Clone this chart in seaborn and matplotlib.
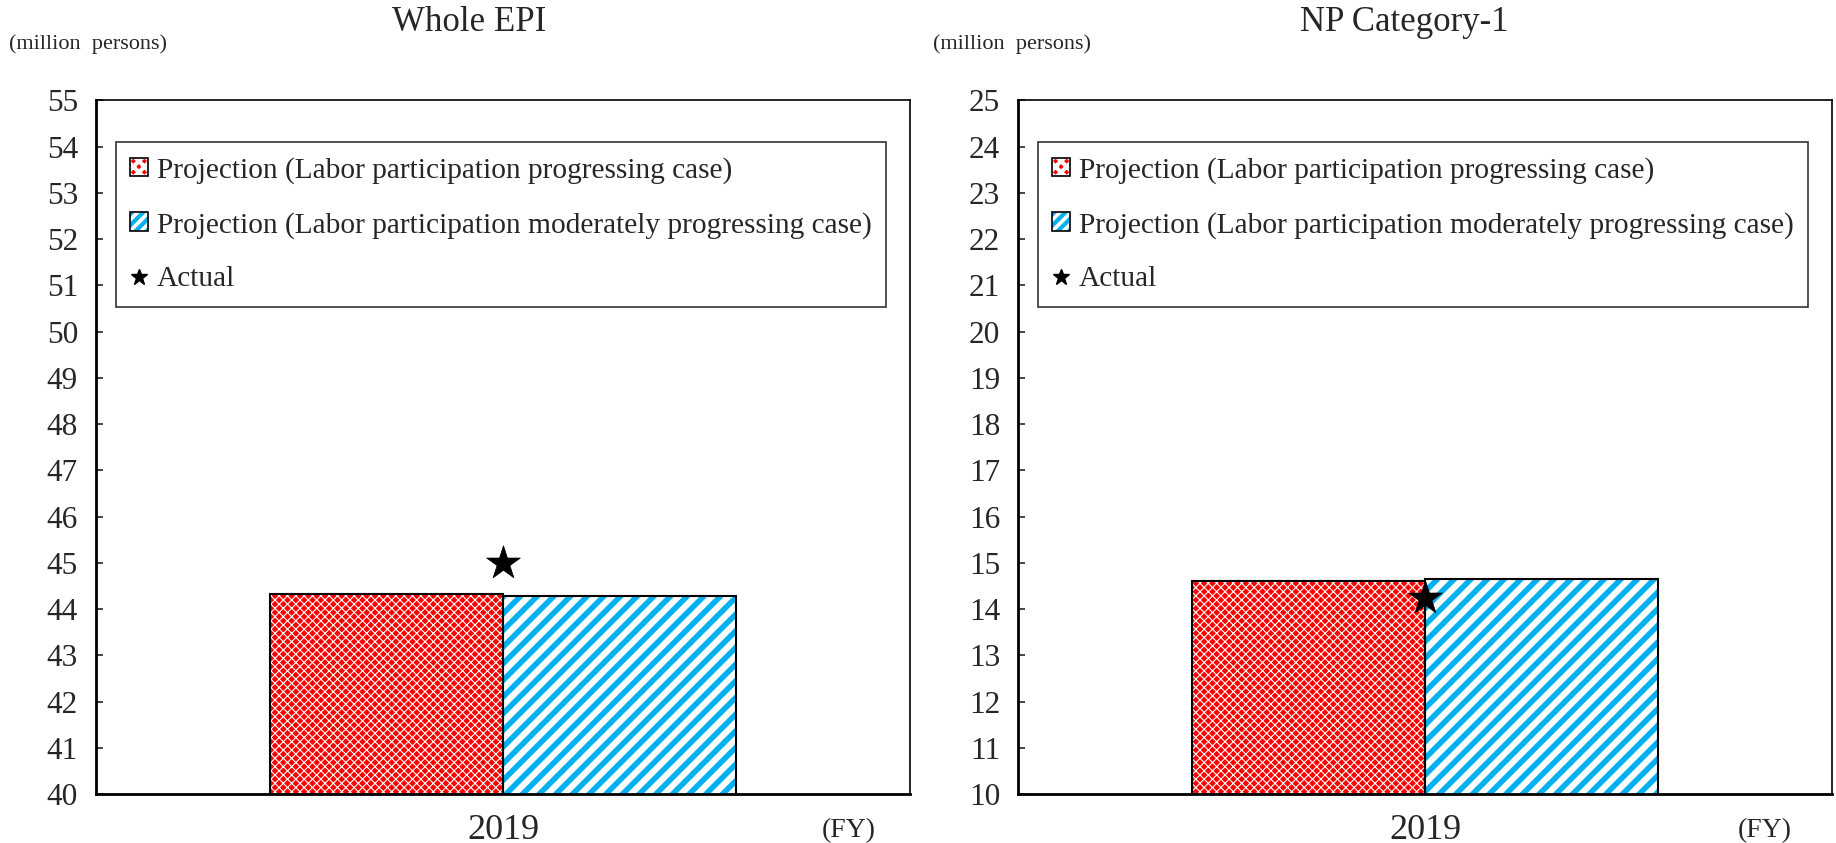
import pandas as pd
import matplotlib.pyplot as plt
import seaborn as sns
from matplotlib.patches import Patch, Rectangle
from matplotlib.lines import Line2D

# values (million persons)
years = ["2019"]
panels = ["Whole EPI", "NP Category-1"]
progressing = [44.33, 14.60]
moderate = [44.28, 14.66]
actual = [45.00, 14.25]
y_ranges = [(40, 55), (10, 25)]

case_names = [
    "Projection (Labor participation progressing case)",
    "Projection (Labor participation moderately progressing case)",
]

RED = "#FF0000"
BLUE = "#00B0F0"
SERIF = ["Liberation Serif", "DejaVu Serif"]


def style_bars(ax):
    """Apply the hatch styles and draw black outlines over each bar."""
    bars = [p for p in ax.patches if isinstance(p, Rectangle)]
    for i, bar in enumerate(bars):
        if i == 0:
            bar.set_facecolor(RED)
            bar.set_edgecolor("white")
            bar.set_hatch("xxxx")
            lw = 0.8
        else:
            bar.set_facecolor("white")
            bar.set_edgecolor(BLUE)
            bar.set_hatch("//")
            lw = 4.0
        bar.set_linewidth(0)
        if hasattr(bar, "set_hatch_linewidth"):
            bar.set_hatch_linewidth(lw)
        outline = Rectangle(bar.get_xy(), bar.get_width(), bar.get_height(),
                            fill=False, edgecolor="black", linewidth=1.5, zorder=3)
        ax.add_patch(outline)


def legend_handles():
    red_fill = Patch(facecolor=RED, edgecolor="white", hatch="xxx", linewidth=0)
    red_edge = Patch(facecolor="none", edgecolor="black", linewidth=1.2)
    blue_fill = Patch(facecolor="white", edgecolor=BLUE, hatch="///", linewidth=0)
    blue_edge = Patch(facecolor="none", edgecolor="black", linewidth=1.2)
    star = Line2D([], [], marker="*", color="black", linestyle="none", markersize=12)
    return [(red_fill, red_edge), (blue_fill, blue_edge), star]


def main():
    sns.set_style("white")
    plt.rcParams["font.family"] = SERIF
    plt.rcParams["hatch.linewidth"] = 3.0

    fig = plt.figure(figsize=(18.36, 8.43), dpi=100)
    axes = [fig.add_axes([0.0523, 0.058, 0.4434, 0.823]),
            fig.add_axes([0.5545, 0.058, 0.4434, 0.823])]
    title_x = [0.2557, 0.765]
    unit_x = [0.005, 0.508]
    fy_x = [0.4624, 0.961]

    for k, ax in enumerate(axes):
        df = pd.DataFrame({
            "year": years * 2,
            "case": case_names,
            "value": [progressing[k], moderate[k]],
        })
        sns.barplot(data=df, x="year", y="value", hue="case", width=0.573,
                    gap=0, palette=[RED, BLUE], ax=ax, legend=False,
                    err_kws={"linewidth": 0})
        style_bars(ax)
        sns.scatterplot(x=[0], y=[actual[k]], marker="*", s=650, color="black",
                        edgecolor="black", linewidth=0.5, zorder=5, ax=ax)

        lo, hi = y_ranges[k]
        ax.set_ylim(lo, hi)
        ax.set_xlim(-0.5, 0.5)
        ax.set_yticks(range(lo, hi + 1))
        ax.tick_params(axis="y", direction="in", length=5, width=1.2,
                       labelsize=22.5, pad=13, left=True)
        ax.tick_params(axis="x", length=0, labelsize=26, pad=14)
        for lab in ax.get_xticklabels() + ax.get_yticklabels():
            lab.set_fontfamily(SERIF)
        ax.set_xlabel("")
        ax.set_ylabel("")
        for side in ["top", "right"]:
            ax.spines[side].set_linewidth(1.2)
            ax.spines[side].set_color("black")
        for side in ["left", "bottom"]:
            ax.spines[side].set_linewidth(2.0)
            ax.spines[side].set_color("black")

        leg = ax.legend(legend_handles(), case_names + ["Actual"],
                        loc="upper left", bbox_to_anchor=(0.024, 0.94),
                        fontsize=21.2, frameon=True, fancybox=False,
                        edgecolor="black", handlelength=0.6, handleheight=0.6,
                        handletextpad=0.3, labelspacing=0.95, borderpad=0.5,
                        borderaxespad=0)
        leg.get_frame().set_linewidth(1.2)
        for t in leg.get_texts():
            t.set_fontfamily(SERIF)

        fig.text(title_x[k], 0.993, panels[k], ha="center", va="top",
                 fontsize=25, family=SERIF)
        fig.text(unit_x[k], 0.948, "(million  persons)", ha="left", va="center",
                 fontsize=16, family=SERIF)
        fig.text(fy_x[k], 0.0, "(FY)", ha="center", va="bottom",
                 fontsize=20, family=SERIF)

    fig.savefig("out.png", dpi=100)


if __name__ == "__main__":
    main()
